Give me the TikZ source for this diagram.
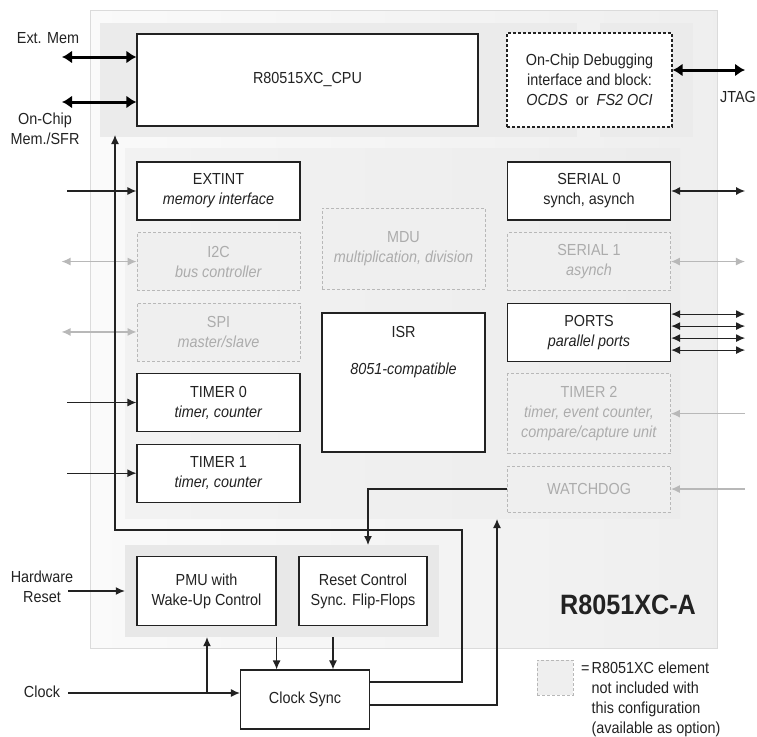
\documentclass[tikz,border=0pt]{standalone}
\usepackage{fontspec}
\setmainfont{Liberation Sans}[FakeStretch=0.9]
\usepackage{tikz}
\usetikzlibrary{arrows.meta,positioning,calc}
\definecolor{optLine}{RGB}{184,184,184}
\definecolor{optText}{RGB}{172,172,172}
\definecolor{optFill}{RGB}{239,239,239}
\definecolor{inkGray}{RGB}{34,34,34}

\begin{document}
\begin{tikzpicture}[
    x=1pt, y=-1pt,
    font=\fontsize{16}{20}\selectfont,
    text=inkGray,
    node distance=11.5pt,
    box/.style={rectangle, draw=inkGray, line width=1.2pt, fill=white, align=center, minimum width=163pt, minimum height=58pt, inner sep=2pt},
    optbox/.style={box, draw=optLine, dashed, dash pattern=on 3pt off 2pt, line width=0.9pt, fill=optFill, text=optText},
    panel/.style={rectangle, draw=none, inner sep=0pt},
    arrow/.style={-{Latex[length=9pt,width=8pt]}, line width=1.2pt, draw=inkGray},
    biarrow/.style={{Latex[length=9pt,width=8pt]}-{Latex[length=9pt,width=8pt]}, line width=1.2pt, draw=inkGray},
    optarrow/.style={{Latex[length=9pt,width=8pt]}-{Latex[length=9pt,width=8pt]}, line width=1.2pt, draw=optLine},
    optin/.style={-{Latex[length=9pt,width=8pt]}, line width=1.2pt, draw=optLine},
    bus/.style={{Latex[length=10pt,width=13pt]}-{Latex[length=10pt,width=13pt]}, line width=3pt, draw=black}
]
    \useasboundingbox (0,0) rectangle (757,736);

    % chip and panels
    \path[draw=gray!28, line width=0.8pt, left color=gray!4, right color=gray!13] (90,10) rectangle (717,648);
    \fill[gray!16] (100,23) rectangle (577,137);
    \fill[gray!16] (600,23) rectangle (693,137);
    \node[panel, left color=gray!10, right color=gray!15, minimum width=555pt, minimum height=370pt] (periph) at (402.5,333) {};
    \node[panel, fill=gray!18, minimum width=314pt, minimum height=92pt] (rstpanel) at (282,591) {};

    % cpu row
    \node[box, minimum width=341pt, minimum height=92pt] (cpu) at (307.5,80) {R80515XC\_CPU};
    \node[box, dashed, dash pattern=on 3pt off 2pt, minimum width=165pt, minimum height=94pt] (ocds) at (589.5,80) {On-Chip Debugging\\interface and block:\\\textit{OCDS}~~or~~\textit{FS2 OCI}};

    % left column
    \node[box] (extint) at (218.5,191) {EXTINT\\\textit{memory interface}};
    \node[optbox, below=of extint] (iic) {I2C\\\textit{bus controller}};
    \node[optbox, below=of iic] (spi) {SPI\\\textit{master/slave}};
    \node[box, below=of spi] (timerA) {TIMER 0\\\textit{timer, counter}};
    \node[box, below=of timerA] (timerB) {TIMER 1\\\textit{timer, counter}};

    % middle column
    \node[optbox, minimum height=81pt] (mdu) at (403.5,248.5) {MDU\\\textit{multiplication, division}};
    \node[box, minimum height=139pt] (isr) at (403.5,382.5) {};
    \node[below=14pt of isr.north, align=center, inner sep=0pt] (isrtext) {ISR\\[17pt]\textit{8051-compatible}};

    % right column
    \node[box] (serA) at (589,191) {SERIAL 0\\synch, asynch};
    \node[optbox, below=of serA] (serB) {SERIAL 1\\\textit{asynch}};
    \node[box, below=of serB] (ports) {PORTS\\\textit{parallel ports}};
    \node[optbox, minimum height=80pt, below=of ports] (timerC) {TIMER 2\\\textit{timer, event counter,}\\\textit{compare/capture unit}};
    \node[optbox, minimum height=46pt, below=of timerC] (wdog) {WATCHDOG};

    % reset and clock
    \node[box, minimum width=139pt, minimum height=69pt] (pmu) at (206.5,591) {PMU with\\Wake-Up Control};
    \node[box, minimum width=128pt, minimum height=69pt] (rst) at (363,591) {Reset Control\\Sync. Flip-Flops};
    \node[box, minimum width=129pt, minimum height=59pt] (csync) at (305,699.5) {Clock Sync};

    % outside labels
    \node (extmemlbl) at (48,38) {Ext. Mem};
    \node[align=center] (onchiplbl) at (45,129) {On-Chip\\Mem./SFR};
    \node (jtaglbl) at (738,97) {JTAG};
    \node[align=center] (hwlbl) at (42,587) {Hardware\\Reset};
    \node (clklbl) at (42,692) {Clock};
    \node[font=\fontsize{28}{32}\selectfont\bfseries] (chipname) at (628,605) {R8051XC-A};

    % legend
    \node[optbox, minimum width=36pt, minimum height=35pt] (legbox) at (555,677.5) {};
    \node[anchor=north west, align=left, inner sep=0pt] (legtext) at (581,662) {=\kern2pt R8051XC element\\\hphantom{=\kern2pt}not included with\\\hphantom{=\kern2pt}this configuration\\\hphantom{=\kern2pt}(available as option)};

    % buses
    \coordinate (extmem) at (62,57);
    \coordinate (onchip) at (62,102);
    \coordinate (jtag) at (745,70);
    \draw[bus] (extmem) -- (extmem -| cpu.west);
    \draw[bus] (onchip) -- (onchip -| cpu.west);
    \draw[bus] (ocds.east |- jtag) -- (jtag);

    % peripheral pins
    \foreach \n in {extint,timerA,timerB} {
        \coordinate (\n-in) at ([xshift=-69pt]\n.west);
        \draw[arrow] (\n-in) -- (\n.west);
    }
    \foreach \n in {iic,spi} {
        \coordinate (\n-io) at ([xshift=-75pt]\n.west);
        \draw[optarrow] (\n-io) -- (\n.west);
    }
    \coordinate (serA-io) at ([xshift=74pt]serA.east);
    \draw[biarrow] (serA.east) -- (serA-io);
    \coordinate (serB-io) at ([xshift=74pt]serB.east);
    \draw[optarrow] (serB.east) -- (serB-io);
    \coordinate (ports-io) at ([xshift=74pt]ports.east);
    \foreach \dy in {18,6,-6,-18}
        \draw[biarrow] ([yshift=\dy pt]ports.east) -- ([yshift=\dy pt]ports-io);
    \foreach \n in {timerC,wdog} {
        \coordinate (\n-in) at ([xshift=74pt]\n.east);
        \draw[optin] (\n-in) -- (\n.east);
    }

    % reset and clock wiring
    \coordinate (hwin) at (68,591);
    \draw[arrow] (hwin) -- (hwin -| rstpanel.west);
    \coordinate (clkin) at (68,693);
    \coordinate (clkbr) at (207,693);
    \draw[arrow] (clkin) -- (clkin -| csync.west);
    \draw[arrow] (clkbr) -- (clkbr |- rstpanel.south);
    \coordinate (rsttap) at ([xshift=-30pt]rst.south);
    \draw[arrow] (pmu.east |- rstpanel.south) -- (pmu.east |- csync.north);
    \draw[arrow] (rsttap |- rstpanel.south) -- (rsttap |- csync.north);
    \coordinate (wdtap) at (368,545);
    \draw[arrow] (wdog.west) -| (wdtap);
    \coordinate (cpuret) at (115,135);
    \coordinate (cputurn) at (462,530);
    \draw[arrow] ([yshift=17.5pt]csync.east) -| (cputurn) -| (cpuret);
    \coordinate (sysret) at (497,519);
    \draw[arrow] ([yshift=-5.5pt]csync.east) -| (sysret);
\end{tikzpicture}
\end{document}
